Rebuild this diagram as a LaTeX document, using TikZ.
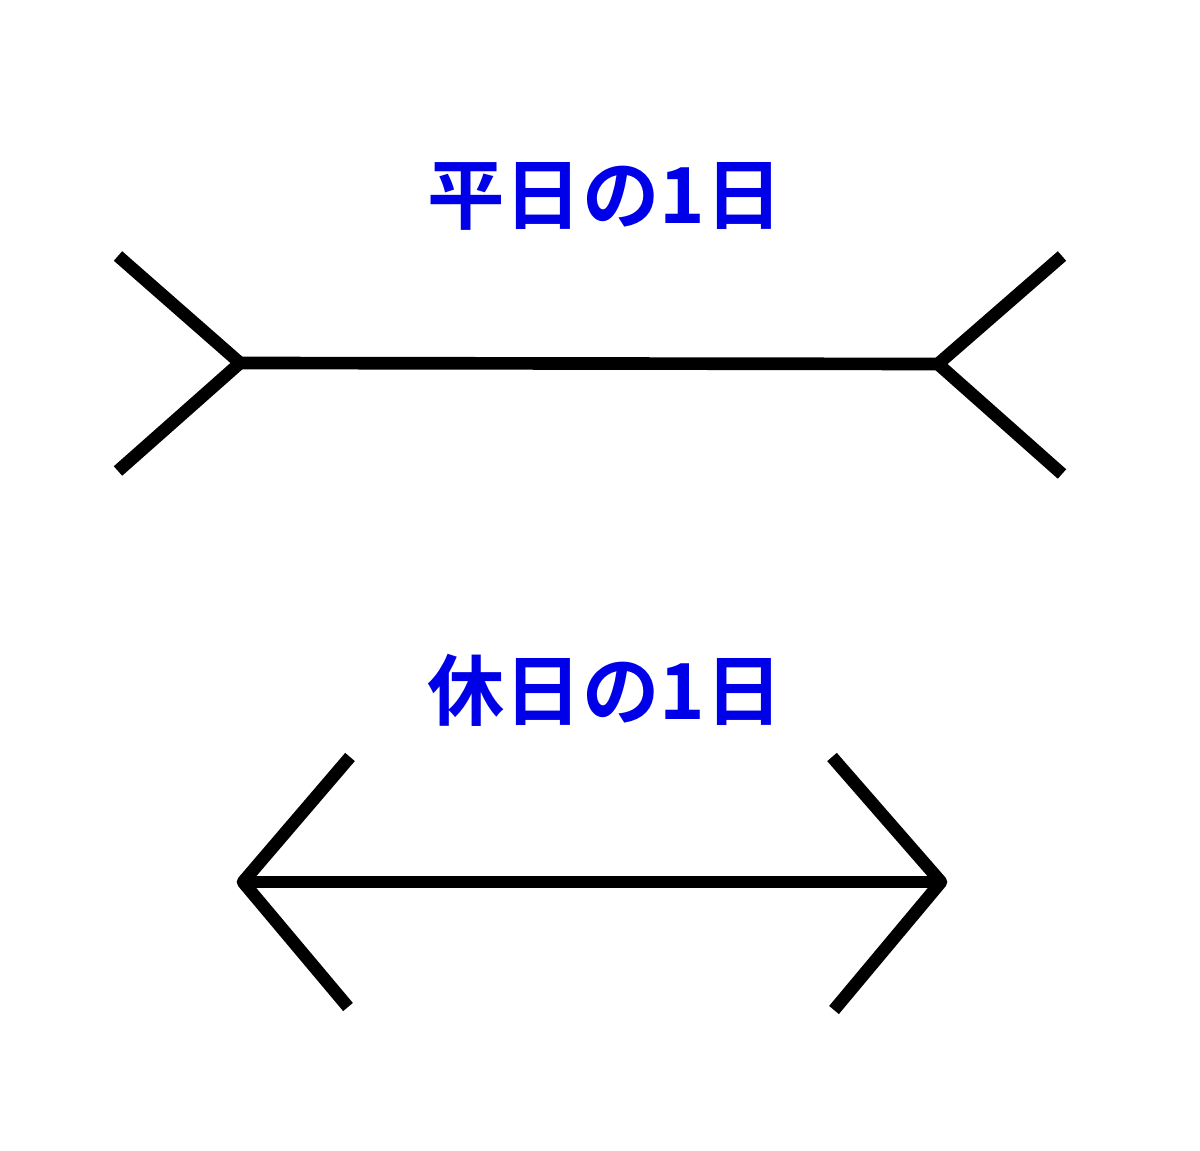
\documentclass[tikz,border=0pt]{standalone}
\usepackage{fontspec}
\newfontfamily\cjk{Noto Sans CJK JP Bold}
\definecolor{titleblue}{RGB}{0,0,232}
\begin{document}
\begin{tikzpicture}[x=0.75pt,y=-0.75pt,
  fin/.style={line width=9.5pt,line cap=butt,black},
  title/.style={font=\cjk\fontsize{58}{62}\selectfont,text=titleblue,inner sep=0pt}]
\useasboundingbox (0,0) rectangle (1200,1151);
\fill[white] (0,0) rectangle (1200,1151);
% top figure
\coordinate (tl) at (240,363);
\coordinate (tr) at (938,364);
\coordinate (tlu) at (118,256);
\coordinate (tld) at (118,471);
\coordinate (tru) at (1062,256);
\coordinate (trd) at (1062,474);
\draw[fin] (tl) -- (tr);
\draw[fin,line join=miter] (tlu) -- (tl) -- (tld);
\draw[fin,line join=miter] (tru) -- (tr) -- (trd);
\node[title] (t1) at (605,196) {平日の1日};
% bottom figure
\coordinate (bl) at (243,882);
\coordinate (br) at (941,882);
\coordinate (blu) at (350,757);
\coordinate (bld) at (348,1007);
\coordinate (bru) at (832,757);
\coordinate (brd) at (834,1010);
\draw[fin] (bl) -- (br);
\draw[fin,line join=round] (blu) -- (bl) -- (bld);
\draw[fin,line join=round] (bru) -- (br) -- (brd);
\node[title] (t2) at (605,690) {休日の1日};
\end{tikzpicture}
\end{document}
